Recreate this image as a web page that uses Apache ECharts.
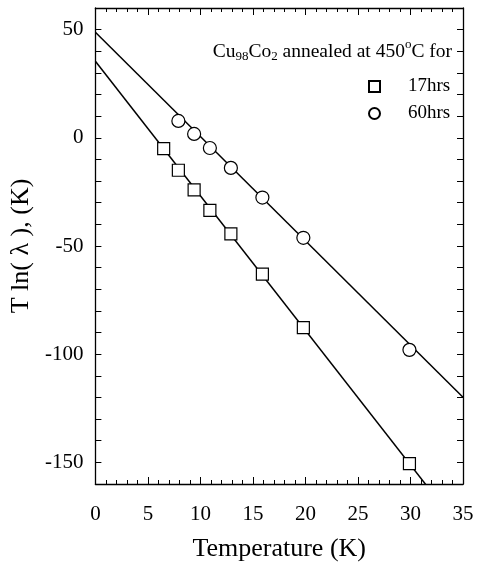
<!DOCTYPE html>
<html>
<head>
<meta charset="utf-8">
<script src="https://cdn.jsdelivr.net/npm/echarts/dist/echarts.min.js"></script>
<style>
  html, body { margin: 0; padding: 0; background: #fff; }
  #chart { width: 479px; height: 567px; }
</style>
</head>
<body>
<div id="chart"></div>
<script>
// 17hrs sample (squares)
var temps17 = [6.5, 7.9, 9.4, 10.9, 12.9, 15.9, 19.8, 29.9];
var vals17 = [-5.0, -15.0, -24.1, -33.5, -44.4, -63.0, -87.7, -150.6];
// 60hrs sample (circles)
var temps60 = [7.9, 9.4, 10.9, 12.9, 15.9, 19.8, 29.9];
var vals60 = [7.8, 1.8, -4.7, -13.9, -27.6, -46.2, -98.0];
// straight line fits, end points
var fit17 = [[0, 35.4], [35, -182.3]];
var fit60 = [[0, 48.8], [35, -119.9]];

var xMin = 0, xMax = 35, xStep = 5;
var yMin = -160, yMax = 60, yStep = 10, yLabelStep = 50;

var serif = '"Liberation Serif", "DejaVu Serif", serif';

function pairs(xs, ys) {
  var out = [];
  for (var i = 0; i < xs.length; i++) out.push([xs[i], ys[i]]);
  return out;
}

var myChart = echarts.init(document.getElementById('chart'));

var tickX = { show: true, inside: true, length: 7, lineStyle: { color: '#000', width: 1 } };
var minorX = { show: true, splitNumber: 5, length: 4, lineStyle: { color: '#000', width: 1 } };
var tickY = { show: true, inside: true, length: 6, lineStyle: { color: '#000', width: 1 } };
var axLine = { show: true, onZero: false, lineStyle: { color: '#000', width: 1.3 } };

var option = {
  backgroundColor: '#fff',
  animation: false,
  grid: { left: 95, right: 16, top: 8, bottom: 79 },
  xAxis: [
    {
      type: 'value', min: xMin, max: xMax, interval: xStep,
      axisLine: axLine, axisTick: tickX, minorTick: minorX,
      splitLine: { show: false },
      axisLabel: { color: '#000', fontFamily: serif, fontSize: 21, margin: 20 },
      name: 'Temperature (K)', nameLocation: 'middle', nameGap: 52,
      nameTextStyle: { color: '#000', fontFamily: serif, fontSize: 26 }
    },
    {
      type: 'value', position: 'top', min: xMin, max: xMax, interval: xStep,
      axisLine: axLine, axisTick: tickX, minorTick: minorX,
      splitLine: { show: false }, axisLabel: { show: false }
    }
  ],
  yAxis: [
    {
      type: 'value', min: yMin, max: yMax, interval: yStep,
      axisLine: axLine, axisTick: tickY, splitLine: { show: false },
      axisLabel: {
        color: '#000', fontFamily: serif, fontSize: 21, margin: 12,
        formatter: function (v) { return v % yLabelStep === 0 ? String(v) : ''; }
      },
      name: 'T ln( \u03bb ), (K)', nameLocation: 'middle', nameGap: 56, nameRotate: 90,
      nameTextStyle: { color: '#000', fontFamily: serif, fontSize: 26 }
    },
    {
      type: 'value', position: 'right', min: yMin, max: yMax, interval: yStep,
      axisLine: axLine, axisTick: tickY, splitLine: { show: false },
      axisLabel: { show: false }
    }
  ],
  legend: {
    orient: 'vertical', left: 363, top: 72, itemGap: 8,
    itemWidth: 11, itemHeight: 11,
    textStyle: { color: '#000', fontFamily: serif, fontSize: 19, padding: [0, 0, 0, 23] },
    data: ['17hrs', '60hrs']
  },
  graphic: [
    {
      type: 'text', right: 27, top: 38,
      style: {
        text: '{n|Cu}{s|98}{n|Co}{s|2}{n| annealed at 450}{u|o}{n|C for}',
        rich: {
          n: { fill: '#000', fontFamily: serif, fontSize: 19.5 },
          s: { fill: '#000', fontFamily: serif, fontSize: 13, padding: [11, 0, 0, 0] },
          u: { fill: '#000', fontFamily: serif, fontSize: 13, padding: [0, 0, 14, 0] }
        }
      }
    }
  ],
  series: [
    {
      name: 'fit17', type: 'line', data: fit17, symbol: 'none', silent: true,
      lineStyle: { color: '#000', width: 1.5 }, z: 2
    },
    {
      name: 'fit60', type: 'line', data: fit60, symbol: 'none', silent: true,
      lineStyle: { color: '#000', width: 1.5 }, z: 2
    },
    {
      name: '17hrs', type: 'scatter', data: pairs(temps17, vals17),
      symbol: 'rect', symbolSize: 12, z: 5,
      itemStyle: { color: '#fff', borderColor: '#000', borderWidth: 1.2, opacity: 1 }
    },
    {
      name: '60hrs', type: 'scatter', data: pairs(temps60, vals60),
      symbol: 'circle', symbolSize: 13, z: 5,
      itemStyle: { color: '#fff', borderColor: '#000', borderWidth: 1.2, opacity: 1 }
    }
  ]
};

myChart.setOption(option);
</script>
</body>
</html>
